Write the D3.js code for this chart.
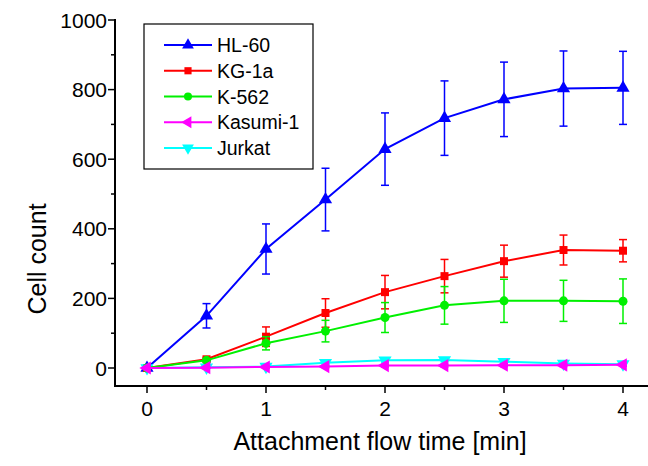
<!DOCTYPE html>
<html>
<head>
<meta charset="utf-8">
<script src="https://cdn.jsdelivr.net/npm/d3@7"></script>
<style>
  body { margin: 0; background: white; }
  svg { display: block; font-family: "Liberation Sans", Arial, sans-serif; }
</style>
</head>
<body>
<div id="chart"></div>
<script>
// attachment flow time [min]
const times = [0, 0.5, 1, 1.5, 2, 2.5, 3, 3.5, 4];

const seriesNames = ["HL-60", "KG-1a", "K-562", "Kasumi-1", "Jurkat"];

const hl60Values   = [0, 150, 342, 484, 629, 718, 772, 803, 805];
const hl60Errors   = [3, 35, 72, 90, 104, 107, 107, 108, 105];
const kg1aValues   = [0, 25, 90, 158, 218, 264, 307, 339, 337];
const kg1aErrors   = [2, 5, 28, 41, 48, 48, 46, 43, 32];
const k562Values   = [0, 22, 71, 106, 145, 180, 193, 193, 192];
const k562Errors   = [2, 4, 19, 31, 43, 54, 62, 59, 64];
const kasumiValues = [0, 1, 3, 4, 7, 7, 8, 8, 9];
const kasumiErrors = [1, 2, 3, 3, 4, 4, 4, 4, 4];
const jurkatValues = [0, 2, 4, 15, 22, 23, 18, 13, 11];
const jurkatErrors = [1, 2, 3, 5, 5, 5, 5, 4, 4];

const xTicks = [0, 1, 2, 3, 4];
const xMinorTicks = [0.5, 1.5, 2.5, 3.5];
const yTicks = [0, 200, 400, 600, 800, 1000];
const yMinorTicks = [100, 300, 500, 700, 900];

const width = 648, height = 466;

const series = [
    { name: seriesNames[0], values: hl60Values, errors: hl60Errors, color: "#0000ff", symbol: d3.symbolTriangle, rotate: 0, size: 75 },
    { name: seriesNames[1], values: kg1aValues, errors: kg1aErrors, color: "#ff0000", symbol: d3.symbolSquare, rotate: 0, size: 64 },
    { name: seriesNames[2], values: k562Values, errors: k562Errors, color: "#00f000", symbol: d3.symbolCircle, rotate: 0, size: 64 },
    { name: seriesNames[3], values: kasumiValues, errors: kasumiErrors, color: "#ff00ff", symbol: d3.symbolTriangle, rotate: -90, size: 75 },
    { name: seriesNames[4], values: jurkatValues, errors: jurkatErrors, color: "#00ffff", symbol: d3.symbolTriangle, rotate: 180, size: 75 }
];
// draw order: later on top
const drawOrder = [0, 1, 4, 2, 3];

const x = d3.scaleLinear().domain([0, 4]).range([147, 623]);
const y = d3.scaleLinear().domain([0, 1000]).range([368, 20]);

const axisLeft = 115;
const axisBottom = 386;

const svg = d3.select("#chart").append("svg")
    .attr("width", width)
    .attr("height", height)
    .attr("viewBox", "0 0 " + width + " " + height);

// axes
const xAxis = svg.append("g").attr("transform", "translate(0," + axisBottom + ")");
xAxis.append("line")
    .attr("x1", axisLeft - 1).attr("x2", width)
    .attr("y1", 0).attr("y2", 0)
    .attr("stroke", "black").attr("stroke-width", 2);
xAxis.selectAll(".major").data(xTicks).enter().append("line")
    .attr("x1", d => x(d)).attr("x2", d => x(d))
    .attr("y1", 0).attr("y2", 7)
    .attr("stroke", "black").attr("stroke-width", 1.5);
xAxis.selectAll(".minor").data(xMinorTicks).enter().append("line")
    .attr("x1", d => x(d)).attr("x2", d => x(d))
    .attr("y1", 0).attr("y2", 4)
    .attr("stroke", "black").attr("stroke-width", 1.5);
xAxis.selectAll(".lbl").data(xTicks).enter().append("text")
    .attr("x", d => x(d)).attr("y", 30)
    .attr("text-anchor", "middle")
    .style("font-size", "21px")
    .text(d => d);

const yAxis = svg.append("g").attr("transform", "translate(" + axisLeft + ",0)");
yAxis.append("line")
    .attr("x1", 0).attr("x2", 0)
    .attr("y1", y(1000) - 1).attr("y2", axisBottom + 1)
    .attr("stroke", "black").attr("stroke-width", 2);
yAxis.selectAll(".major").data(yTicks).enter().append("line")
    .attr("x1", -7).attr("x2", 0)
    .attr("y1", d => y(d)).attr("y2", d => y(d))
    .attr("stroke", "black").attr("stroke-width", 1.5);
yAxis.selectAll(".minor").data(yMinorTicks).enter().append("line")
    .attr("x1", -4).attr("x2", 0)
    .attr("y1", d => y(d)).attr("y2", d => y(d))
    .attr("stroke", "black").attr("stroke-width", 1.5);
yAxis.selectAll(".lbl").data(yTicks).enter().append("text")
    .attr("x", -8).attr("y", d => y(d))
    .attr("dy", "0.36em")
    .attr("text-anchor", "end")
    .style("font-size", "21px")
    .text(d => d);

// axis titles
svg.append("text")
    .attr("x", 380).attr("y", 450)
    .attr("text-anchor", "middle")
    .style("font-size", "25px")
    .text("Attachment flow time [min]");
svg.append("text")
    .attr("transform", "translate(46,259) rotate(-90)")
    .attr("text-anchor", "middle")
    .style("font-size", "25px")
    .text("Cell count");

// series
const line = d3.line()
    .x(d => x(d.t))
    .y(d => y(d.v));

drawOrder.forEach(function (k) {
    const s = series[k];
    const pts = times.map((t, i) => ({ t: t, v: s.values[i], e: s.errors[i] }));
    const g = svg.append("g").attr("class", "series");

    g.append("path")
        .datum(pts)
        .attr("d", line)
        .attr("fill", "none")
        .attr("stroke", s.color)
        .attr("stroke-width", 2);

    const eb = g.selectAll(".err").data(pts).enter().append("g");
    eb.append("line")
        .attr("x1", d => x(d.t)).attr("x2", d => x(d.t))
        .attr("y1", d => y(d.v + d.e)).attr("y2", d => y(d.v - d.e))
        .attr("stroke", s.color).attr("stroke-width", 1.5);
    eb.append("line")
        .attr("x1", d => x(d.t) - 4).attr("x2", d => x(d.t) + 4)
        .attr("y1", d => y(d.v + d.e)).attr("y2", d => y(d.v + d.e))
        .attr("stroke", s.color).attr("stroke-width", 1.5);
    eb.append("line")
        .attr("x1", d => x(d.t) - 4).attr("x2", d => x(d.t) + 4)
        .attr("y1", d => y(d.v - d.e)).attr("y2", d => y(d.v - d.e))
        .attr("stroke", s.color).attr("stroke-width", 1.5);

    g.selectAll(".mk").data(pts).enter().append("path")
        .attr("d", d3.symbol().type(s.symbol).size(s.size))
        .attr("transform", d => "translate(" + x(d.t) + "," + y(d.v) + ") rotate(" + s.rotate + ")")
        .attr("fill", s.color);
});

// legend
const legend = svg.append("g");
legend.append("rect")
    .attr("x", 144).attr("y", 24)
    .attr("width", 169).attr("height", 145)
    .attr("fill", "white")
    .attr("stroke", "black").attr("stroke-width", 1.2);

const legendRow = d3.scaleLinear().domain([0, 4]).range([45, 148]);
const rows = legend.selectAll(".row").data(series).enter().append("g")
    .attr("transform", (d, i) => "translate(0," + legendRow(i) + ")");
rows.append("line")
    .attr("x1", 164).attr("x2", 212)
    .attr("y1", 0).attr("y2", 0)
    .attr("stroke", d => d.color).attr("stroke-width", 2);
rows.append("path")
    .attr("d", d => d3.symbol().type(d.symbol).size(d.size * 0.8)())
    .attr("transform", d => "translate(188,0) rotate(" + d.rotate + ")")
    .attr("fill", d => d.color);
rows.append("text")
    .attr("x", 217).attr("y", 0)
    .attr("dy", "0.36em")
    .style("font-size", "19.5px")
    .text(d => d.name);
</script>
</body>
</html>
